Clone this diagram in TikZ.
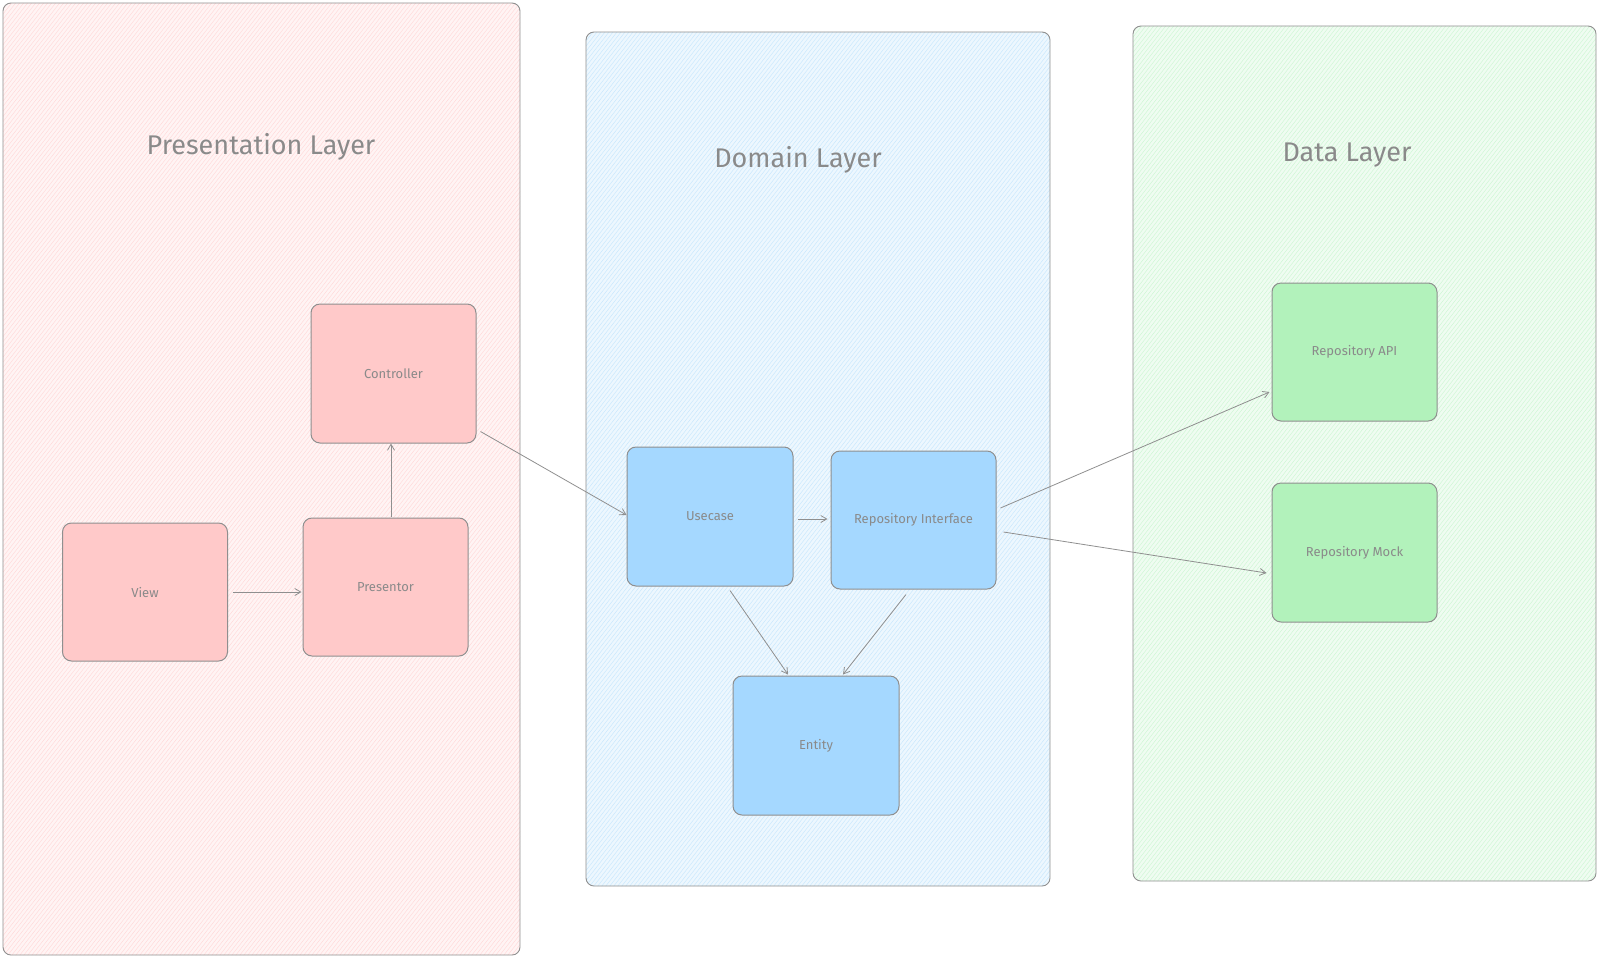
\documentclass[tikz,border=0pt]{standalone}
\usepackage{fontspec}
\setmainfont{Fira Sans}
\usetikzlibrary{arrows.meta,calc}
\definecolor{strokec}{HTML}{8F8F8F}
\definecolor{textc}{HTML}{8A8A8A}
\definecolor{redbg}{HTML}{FFF4F4}
\definecolor{redhatch}{HTML}{FFD9D9}
\definecolor{redfill}{HTML}{FFC9C9}
\definecolor{bluebg}{HTML}{EDF7FE}
\definecolor{bluehatch}{HTML}{C8E7FD}
\definecolor{bluefill}{HTML}{A5D8FF}
\definecolor{greenbg}{HTML}{EFFCF1}
\definecolor{greenhatch}{HTML}{CEF6D4}
\definecolor{greenfill}{HTML}{B2F2BB}
\tikzset{
  layer/.style={draw=strokec, line width=0.9pt, rounded corners=8pt},
  hatchline/.style={draw=#1, line width=0.45pt},
  box/.style={draw=strokec, line width=1pt, rounded corners=9pt, inner sep=0pt, font=\fontsize{13}{15}\selectfont, text=textc},
  redbox/.style={box, fill=redfill},
  bluebox/.style={box, fill=bluefill},
  greenbox/.style={box, fill=greenfill},
  title/.style={font=\fontsize{27}{32}\selectfont, text=textc},
  conn/.style={draw=strokec, line width=0.8pt, -{Straight Barb[length=6pt,width=7pt,line width=0.8pt]}},
}
\newcommand{\hatchlayer}[6]{% x1,y1,x2,y2,bg,hatch
  \fill[#5, rounded corners=8pt] (#1,#2) rectangle (#3,#4);
  \begin{scope}
    \clip[rounded corners=8pt] (#1,#2) rectangle (#3,#4);
    \foreach \i in {-800,-796,...,1600} {
      \draw[hatchline=#6] (\i,960) -- (\i+750,0);
    }
  \end{scope}
  \draw[layer] (#1,#2) rectangle (#3,#4);
}
\begin{document}
\begin{tikzpicture}[x=1pt,y=-1pt]
\useasboundingbox (0,0) rectangle (1600,959);
% layers
\hatchlayer{3}{3}{520}{955}{redbg}{redhatch}
\hatchlayer{586}{32}{1050}{886}{bluebg}{bluehatch}
\hatchlayer{1133}{26}{1596}{881}{greenbg}{greenhatch}
% titles
\node[title] (tp) at (261,147) {Presentation Layer};
\node[title] (td) at (798,160) {Domain Layer};
\node[title] (tdata) at (1347,155) {Data Layer};
% nodes
\node[redbox, minimum width=165pt, minimum height=139pt] (ctrl) at (393.5,373.5) {Controller};
\node[redbox, minimum width=165pt, minimum height=138pt] (view) at (145,592) {View};
\node[redbox, minimum width=165pt, minimum height=138pt] (pres) at (385.5,587) {Presentor};
\node[bluebox, minimum width=166pt, minimum height=139pt] (uc) at (710,516.5) {Usecase};
\node[bluebox, minimum width=165pt, minimum height=138pt] (ri) at (913.5,520) {Repository Interface};
\node[bluebox, minimum width=166pt, minimum height=139pt] (ent) at (816,745.5) {Entity};
\node[greenbox, minimum width=165pt, minimum height=138pt] (api) at (1354.5,352) {Repository API};
\node[greenbox, minimum width=165pt, minimum height=139pt] (mock) at (1354.5,552.5) {Repository Mock};
% connectors
\draw[conn] ($(view.east)+(4.5,0)$) -- ($(pres.west)+(-1,5)$);
\draw[conn] ($(pres.north)+(5.5,-1)$) -- ($(ctrl.south)+(-2.5,0)$);
\draw[conn] ($(ctrl.south east)+(4,-12)$) -- ($(uc.west)+(0,-1.5)$);
\draw[conn] ($(uc.east)+(4,2.5)$) -- ($(ri.west)+(-3,-1)$);
\draw[conn] ($(uc.south)+(20,4)$) -- ($(ent.north)+(-28,-1)$);
\draw[conn] ($(ri.south)+(-7.5,5)$) -- ($(ent.north)+(27,-1)$);
\draw[conn] ($(ri.east)+(4,-12)$) -- ($(api.west)+(-2,40)$);
\draw[conn] ($(ri.east)+(7,12)$) -- ($(mock.west)+(-5,20.5)$);
\end{tikzpicture}
\end{document}
